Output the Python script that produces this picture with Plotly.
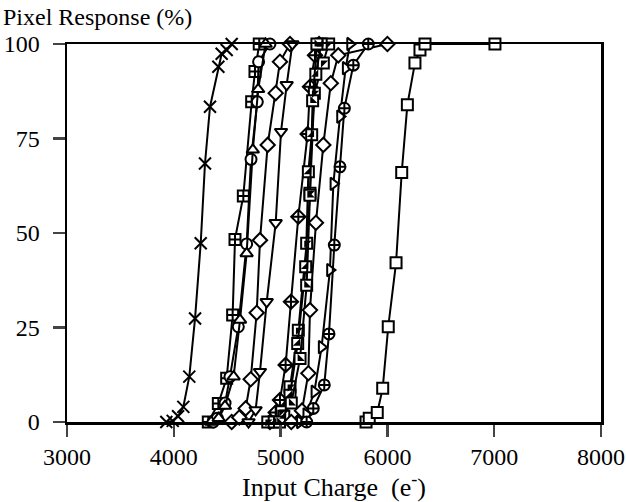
import plotly.graph_objects as go

# ---- data ----
x_cross = [3930, 3990, 4040, 4089, 4145, 4199, 4252, 4292, 4339, 4417, 4448, 4495, 4542]
y_cross = [0, 0.3, 1.5, 4, 12, 27.4, 47.3, 68.4, 83.4, 94, 97.4, 98.4, 100]

x_sqplus = [4323, 4417, 4495, 4551, 4573, 4651, 4729, 4760, 4800]
y_sqplus = [0, 4.9, 11.6, 28.3, 48.3, 59.8, 84.7, 92.7, 100]

x_circle = [4370, 4407, 4480, 4526, 4604, 4682, 4723, 4782, 4794, 4900]
y_circle = [0, 1, 5, 12, 25.2, 47.1, 69.5, 84.7, 95.3, 100]

x_triup = [4350, 4420, 4479, 4560, 4620, 4682, 4740, 4790, 4860]
y_triup = [0, 1, 4.2, 12, 27, 44.6, 72, 88, 100]

x_diam1 = [4542, 4613, 4673, 4720, 4776, 4807, 4879, 4954, 4994, 5088]
y_diam1 = [0, 1.2, 3.6, 11.3, 28.9, 48.1, 73.3, 87, 95.3, 100]

x_tridown = [4700, 4766, 4807, 4870, 4954, 5004, 5057, 5110]
y_tridown = [0, 3.2, 13.3, 31.8, 52.7, 76.8, 89.2, 100]

x_diamx = [4900, 4954, 4994, 5047, 5097, 5166, 5253, 5275, 5322, 5360]
y_diamx = [0, 2.5, 5.8, 15.1, 31.8, 54.3, 76.2, 88.7, 97, 100]

x_half1 = [4880, 5010, 5088, 5166, 5244, 5275, 5316, 5400, 5450]
y_half1 = [0, 2.7, 9.3, 24.3, 47.3, 60.5, 87, 95, 100]

x_half2 = [4940, 5030, 5088, 5160, 5235, 5260, 5291, 5330, 5380]
y_half2 = [0, 1.5, 7.1, 20.8, 41.1, 66.2, 76, 92, 100]

x_rect = [4990, 5100, 5182, 5244, 5275, 5300, 5340]
y_rect = [0, 5, 16.8, 36.2, 60, 85, 100]

x_diam2 = [5100, 5200, 5260, 5275, 5331, 5400, 5470, 5540, 6000]
y_diam2 = [0, 3, 12.9, 29.6, 52.7, 73.3, 89.6, 97, 100]

x_triright = [5180, 5240, 5316, 5384, 5462, 5494, 5556, 5609, 5650]
y_triright = [0, 2, 8, 19.8, 40.2, 63, 80.8, 93.6, 100]

x_circplus = [5244, 5306, 5409, 5453, 5503, 5556, 5597, 5681, 5821]
y_circplus = [0, 3.6, 9.8, 23.3, 46.8, 67.5, 83, 94.4, 100]

x_square = [5800, 5830, 5905, 5956, 6008, 6081, 6134, 6187, 6258, 6305, 6352, 7007]
y_square = [0, 1, 2.5, 8.9, 25.2, 42.1, 66, 83.9, 95, 98.4, 100, 100]

x_ticks = [3000, 4000, 5000, 6000, 7000, 8000]
y_ticks = [0, 25, 50, 75, 100]

FONT = "Liberation Serif"
series = [
    (x_sqplus, y_sqplus, "square-cross"),
    (x_circle, y_circle, "circle"),
    (x_triup, y_triup, "triangle-up"),
    (x_diam1, y_diam1, "diamond"),
    (x_tridown, y_tridown, "triangle-down"),
    (x_diamx, y_diamx, "diamond-cross"),
    (x_half1, y_half1, "square"),
    (x_half2, y_half2, "square"),
    (x_rect, y_rect, "square"),
    (x_diam2, y_diam2, "diamond"),
    (x_triright, y_triright, "triangle-right"),
    (x_circplus, y_circplus, "circle-cross"),
    (x_square, y_square, "square"),
]

fig = go.Figure()
fig.add_trace(go.Scatter(
    x=x_cross, y=y_cross, mode="lines+markers",
    line=dict(color="black", width=2),
    marker=dict(symbol="x-thin-open", size=12, color="black",
                line=dict(color="black", width=2)),
    showlegend=False, cliponaxis=False))
for xs, ys, sym in series:
    fig.add_trace(go.Scatter(
        x=xs, y=ys, mode="lines+markers",
        line=dict(color="black", width=2),
        marker=dict(symbol=sym, size=11, color="white",
                    line=dict(color="black", width=2)),
        showlegend=False, cliponaxis=False))

# half-filled squares: black triangle overlay
for xs, ys, sym in [(x_half1, y_half1, "triangle-nw"), (x_half2, y_half2, "triangle-se"),
                    (x_rect, y_rect, "triangle-sw")]:
    fig.add_trace(go.Scatter(
        x=xs, y=ys, mode="markers",
        marker=dict(symbol=sym, size=8, color="black", line=dict(width=0)),
        showlegend=False, cliponaxis=False))

fig.update_layout(
    width=626, height=502,
    margin=dict(l=67, r=25, t=44, b=80, autoexpand=False),
    paper_bgcolor="white", plot_bgcolor="white",
    font=dict(family=FONT, size=24, color="black"),
    annotations=[dict(text="Pixel Response (%)", x=0, y=1, xref="paper", yref="paper",
                      xanchor="left", yanchor="bottom", showarrow=False, xshift=-66, yshift=12,
                      font=dict(family=FONT, size=24, color="black"))],
)
fig.update_xaxes(range=[3000, 8000], tickvals=x_ticks, ticks="outside", ticklen=12, tickwidth=2.5,
                 showline=True, linewidth=2.5, linecolor="black", mirror=True, showgrid=False,
                 zeroline=False, automargin=False, tickfont=dict(size=24),
                 title=dict(text="Input Charge  (e<sup>-</sup>)", standoff=2,
                            font=dict(family=FONT, size=26)))
fig.update_yaxes(range=[0, 100], tickvals=y_ticks, ticks="outside", ticklen=12, tickwidth=2.5,
                 showline=True, linewidth=2.5, linecolor="black", mirror=True, showgrid=False,
                 zeroline=False, automargin=False, tickfont=dict(size=24), ticklabelstandoff=8)

fig.write_html("out.html", config={"displayModeBar": False, "staticPlot": True},
               post_script="document.body.style.margin='0';document.body.style.padding='0';")
